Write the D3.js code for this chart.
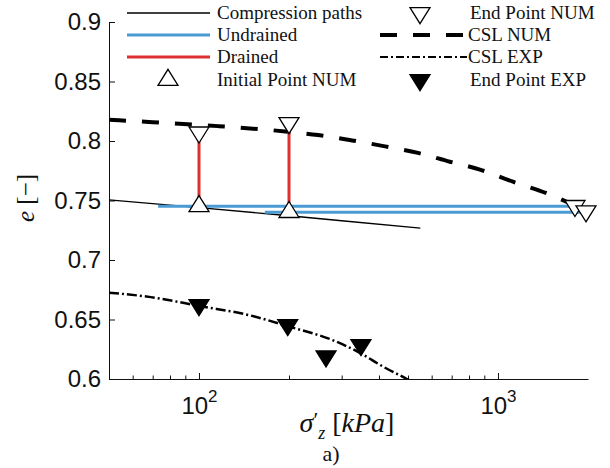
<!DOCTYPE html>
<html>
<head>
<meta charset="utf-8">
<script src="https://cdn.jsdelivr.net/npm/d3@7"></script>
<style>
  body { margin: 0; background: #fff; }
  svg { display: block; }
</style>
</head>
<body>
<svg id="chart" width="610" height="468"></svg>
<script>
// compression paths: vertical stress [kPa] vs void ratio
var compStress = [50, 100, 200, 300, 550];
var compVoid = [0.7505, 0.7440, 0.7372, 0.7330, 0.7268];

// undrained paths (constant e)
var undrainedVoid = [0.7452, 0.7402];
var undrainedFrom = [73, 166];
var undrainedTo = [1809, 1969];

// drained paths (constant stress)
var drainedStress = [100, 200];
var drainedFrom = [0.7452, 0.7402];
var drainedTo = [0.8073, 0.8151];

// initial points NUM
var initStress = [100, 200];
var initVoid = [0.7452, 0.7402];

// end points NUM
var endNumStress = [100, 200, 1809, 1969];
var endNumVoid = [0.8073, 0.8151, 0.7455, 0.7410];

// critical state line NUM
var cslNumStress = [50, 70, 116, 198, 250, 325, 419, 540, 690, 870, 1122, 1457, 1800];
var cslNumVoid = [0.8178, 0.8158, 0.8125, 0.8078, 0.8050, 0.8005, 0.7955, 0.7900, 0.7826, 0.7760, 0.7658, 0.7560, 0.7460];

// critical state line EXP
var cslExpStress = [50, 69, 101, 148, 197, 281, 345, 412, 496, 540];
var cslExpVoid = [0.6725, 0.6688, 0.6612, 0.6535, 0.6445, 0.6325, 0.6220, 0.6105, 0.6000, 0.5950];

// end points EXP
var endExpStress = [100, 198, 266, 348];
var endExpVoid = [0.6622, 0.6454, 0.6191, 0.6286];

var yTicks = [0.6, 0.65, 0.7, 0.75, 0.8, 0.85, 0.9];
var xMajor = [100, 1000];
var xMinor = [60, 70, 80, 90, 200, 300, 400, 500, 600, 700, 800, 900];

var legendLeft = ['Compression paths', 'Undrained', 'Drained', 'Initial Point NUM'];
var legendRight = ['End Point NUM', 'CSL NUM', 'CSL EXP', 'End Point EXP'];

var blue = '#4a9ad4', red = '#dd3030';
var margin = {left: 109, right: 22, top: 22, bottom: 89};
var W = 610, H = 468;

var svg = d3.select('#chart');

var x = d3.scaleLog().domain([50, 2000]).range([margin.left, W - margin.right]);
var y = d3.scaleLinear().domain([0.6, 0.9]).range([H - margin.bottom, margin.top]);

svg.append('defs').append('clipPath').attr('id', 'plotArea')
  .append('rect')
    .attr('x', x.range()[0]).attr('y', y.range()[1])
    .attr('width', x.range()[1] - x.range()[0])
    .attr('height', y.range()[0] - y.range()[1]);

// triangle marker with centroid at origin
function triangle(dir) {
  var w = 10, h = 16;
  var p = d3.path();
  if (dir === 'up') {
    p.moveTo(0, -h * 2 / 3); p.lineTo(w, h / 3); p.lineTo(-w, h / 3);
  } else {
    p.moveTo(0, h * 2 / 3); p.lineTo(w, -h / 3); p.lineTo(-w, -h / 3);
  }
  p.closePath();
  return p.toString();
}

var sans = 'Liberation Sans, Arial, sans-serif';
var serif = 'Liberation Serif, Times New Roman, serif';

// axes
var yAxis = d3.axisLeft(y).tickValues(yTicks).tickSizeInner(-6).tickSizeOuter(0).tickPadding(8)
  .tickFormat(function(d) { return String(+d.toFixed(2)); });
var gy = svg.append('g').attr('transform', 'translate(' + x.range()[0] + ',0)').call(yAxis);
gy.selectAll('text').attr('font-family', sans).attr('font-size', 24).attr('fill', '#111');

var gxMinor = svg.append('g').attr('transform', 'translate(0,' + y.range()[0] + ')')
  .call(d3.axisBottom(x).tickValues(xMinor).tickSizeInner(-3.5).tickSizeOuter(0).tickFormat(''));
gxMinor.select('.domain').remove();

var gx = svg.append('g').attr('transform', 'translate(0,' + y.range()[0] + ')')
  .call(d3.axisBottom(x).tickValues(xMajor).tickSizeInner(-6).tickSizeOuter(0).tickFormat(''));
gx.selectAll('.tick').append('text')
  .attr('y', 35)
  .attr('text-anchor', 'middle')
  .attr('font-family', sans)
  .attr('font-size', 24)
  .attr('fill', '#111')
  .each(function(d) {
    var t = d3.select(this);
    t.append('tspan').text('10');
    t.append('tspan').attr('dy', -12).attr('font-size', 17).text(Math.round(Math.log10(d)));
  });
svg.selectAll('.domain, .tick line').attr('stroke', '#111').attr('stroke-width', 1);

var plot = svg.append('g').attr('clip-path', 'url(#plotArea)');
var line = d3.line().x(function(d) { return x(d[0]); }).y(function(d) { return y(d[1]); });
var curve = d3.line().curve(d3.curveMonotoneX).x(function(d) { return x(d[0]); }).y(function(d) { return y(d[1]); });

// CSL NUM
plot.append('path')
  .attr('d', curve(d3.zip(cslNumStress, cslNumVoid)))
  .attr('fill', 'none').attr('stroke', '#000').attr('stroke-width', 4)
  .attr('stroke-dasharray', '17,16');

// CSL EXP
plot.append('path')
  .attr('d', curve(d3.zip(cslExpStress, cslExpVoid)))
  .attr('fill', 'none').attr('stroke', '#000').attr('stroke-width', 2.5)
  .attr('stroke-dasharray', '10,3,2,3');

// compression path
plot.append('path')
  .attr('d', line(d3.zip(compStress, compVoid)))
  .attr('fill', 'none').attr('stroke', '#000').attr('stroke-width', 1.4);

// undrained
plot.selectAll('.undrained').data(undrainedVoid).enter().append('line')
  .attr('class', 'undrained')
  .attr('x1', function(d, i) { return x(undrainedFrom[i]); })
  .attr('x2', function(d, i) { return x(undrainedTo[i]); })
  .attr('y1', function(d) { return y(d); })
  .attr('y2', function(d) { return y(d); })
  .attr('stroke', blue).attr('stroke-width', 3);

// drained
plot.selectAll('.drained').data(drainedStress).enter().append('line')
  .attr('class', 'drained')
  .attr('x1', function(d) { return x(d); })
  .attr('x2', function(d) { return x(d); })
  .attr('y1', function(d, i) { return y(drainedFrom[i]); })
  .attr('y2', function(d, i) { return y(drainedTo[i]); })
  .attr('stroke', red).attr('stroke-width', 3);

function markers(stress, voids, dir, fill) {
  svg.append('g').selectAll('path').data(stress).enter().append('path')
    .attr('d', triangle(dir))
    .attr('transform', function(d, i) { return 'translate(' + x(d) + ',' + y(voids[i]) + ')'; })
    .attr('fill', fill).attr('stroke', '#000').attr('stroke-width', 1.3);
}
markers(initStress, initVoid, 'up', '#fff');
markers(endNumStress, endNumVoid, 'down', '#fff');
markers(endExpStress, endExpVoid, 'down', '#000');

// legend
var rowY = [13, 35, 57, 80];
var lg = svg.append('g').attr('font-family', serif).attr('font-size', 19).attr('fill', '#111');
lg.selectAll('.lt').data(legendLeft).enter().append('text')
  .attr('x', 217).attr('y', function(d, i) { return rowY[i] + 6; }).text(function(d) { return d; });
lg.selectAll('.rt').data(legendRight).enter().append('text')
  .attr('x', function(d, i) { return (i === 1 || i === 2) ? 468 : 470; })
  .attr('y', function(d, i) { return rowY[i] + 6; }).text(function(d) { return d; });

lg.append('line').attr('x1', 127).attr('x2', 210).attr('y1', rowY[0]).attr('y2', rowY[0])
  .attr('stroke', '#000').attr('stroke-width', 1.4);
lg.append('line').attr('x1', 127).attr('x2', 210).attr('y1', rowY[1]).attr('y2', rowY[1])
  .attr('stroke', blue).attr('stroke-width', 3);
lg.append('line').attr('x1', 127).attr('x2', 210).attr('y1', rowY[2]).attr('y2', rowY[2])
  .attr('stroke', red).attr('stroke-width', 3);
lg.append('path').attr('d', triangle('up')).attr('transform', 'translate(168,' + rowY[3] + ')')
  .attr('fill', '#fff').attr('stroke', '#000').attr('stroke-width', 1.3);
lg.append('path').attr('d', triangle('down')).attr('transform', 'translate(420,' + rowY[0] + ')')
  .attr('fill', '#fff').attr('stroke', '#000').attr('stroke-width', 1.3);
lg.append('line').attr('x1', 380).attr('x2', 467).attr('y1', rowY[1]).attr('y2', rowY[1])
  .attr('stroke', '#000').attr('stroke-width', 4).attr('stroke-dasharray', '17,16');
lg.append('line').attr('x1', 380).attr('x2', 467).attr('y1', rowY[2]).attr('y2', rowY[2])
  .attr('stroke', '#000').attr('stroke-width', 2).attr('stroke-dasharray', '8,3,2,3');
lg.append('path').attr('d', triangle('down')).attr('transform', 'translate(420,' + rowY[3] + ')')
  .attr('fill', '#000').attr('stroke', '#000').attr('stroke-width', 1.3);

// axis labels
var xl = svg.append('text').attr('x', 347).attr('y', 432).attr('text-anchor', 'middle')
  .attr('font-family', serif).attr('font-size', 28).attr('fill', '#111');
xl.append('tspan').attr('font-style', 'italic').text('\u03c3');
xl.append('tspan').attr('font-size', 22).attr('dy', -5).text('\u2032');
xl.append('tspan').attr('font-style', 'italic').attr('font-size', 18).attr('dy', 12).text('z');
xl.append('tspan').attr('dy', -7).text(' [');
xl.append('tspan').attr('font-style', 'italic').text('kPa');
xl.append('tspan').text(']');

var yl = svg.append('text').attr('transform', 'translate(34,198) rotate(-90)').attr('text-anchor', 'middle')
  .attr('font-family', serif).attr('font-size', 25).attr('fill', '#111');
yl.append('tspan').attr('font-style', 'italic').text('e');
yl.append('tspan').text(' [\u2212]');

svg.append('text').attr('x', 331).attr('y', 461).attr('text-anchor', 'middle')
  .attr('font-family', serif).attr('font-size', 22).attr('fill', '#111').text('a)');
</script>
</body>
</html>
